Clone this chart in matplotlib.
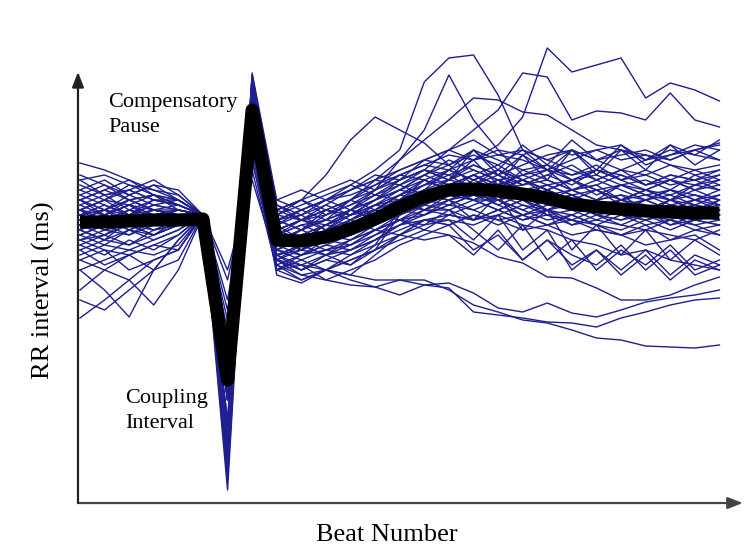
import numpy as np
import matplotlib
matplotlib.use("Agg")
import matplotlib.pyplot as plt

# RR intervals (ms) around a ventricular premature beat, one row per tachogram
# beat index 5 = last sinus beat, 6 = coupling interval, 7 = compensatory pause
rr_tachograms = [
    [880, 900, 870, 890, 880, 870, 520, 1100, 840, 860, 880, 900, 920, 950, 940, 960, 980, 1010, 1066, 1204, 1156, 1170, 1184, 1104, 1134, 1120, 1098],
    [840, 860, 880, 870, 860, 870, 560, 1060, 800, 830, 850, 880, 900, 940, 980, 1000, 1040, 1080, 1154, 1146, 1060, 1078, 1074, 1060, 1114, 1060, 1046],
    [900, 920, 940, 910, 900, 870, 420, 1120, 860, 880, 900, 930, 960, 1000, 1136, 1184, 1190, 1110, 1000, 960, 940, 950, 930, 940, 920, 950, 930],
    [860, 840, 850, 870, 880, 870, 600, 1040, 820, 800, 840, 880, 920, 980, 1040, 1150, 1060, 1000, 950, 960, 920, 900, 930, 910, 900, 920, 900],
    [920, 900, 930, 910, 900, 870, 500, 1090, 880, 900, 950, 1020, 1066, 1040, 1014, 970, 930, 950, 920, 900, 910, 880, 890, 870, 880, 860, 870],
    [870, 880, 860, 850, 860, 870, 540, 1080, 830, 850, 860, 900, 940, 980, 1020, 1060, 1104, 1100, 1076, 1070, 1040, 1010, 1000, 990, 980, 1000, 1014],
    [780, 800, 760, 780, 800, 870, 600, 1000, 780, 770, 760, 740, 726, 740, 740, 720, 690, 676, 660, 654, 640, 624, 620, 608, 606, 604, 610],
    [820, 800, 790, 810, 830, 870, 620, 980, 760, 780, 760, 750, 740, 740, 730, 734, 714, 684, 676, 694, 674, 666, 680, 696, 704, 710, 720],
    [800, 770, 790, 760, 820, 870, 580, 1020, 780, 750, 740, 730, 726, 710, 730, 724, 676, 670, 664, 656, 654, 646, 664, 676, 690, 700, 704],
    [840, 820, 860, 840, 850, 870, 560, 1060, 800, 820, 800, 820, 840, 830, 820, 830, 814, 786, 774, 746, 744, 724, 700, 700, 710, 730, 746],
    [664, 700, 740, 690, 760, 870, 500, 1100, 800, 790, 820, 810, 840, 860, 870, 900, 880, 860, 870, 850, 860, 840, 830, 850, 820, 840, 830],
    [700, 680, 720, 760, 780, 870, 380, 1120, 840, 820, 850, 870, 900, 920, 940, 920, 950, 930, 900, 920, 890, 900, 880, 870, 900, 880, 890],
    [974, 960, 940, 920, 900, 870, 520, 1140, 880, 860, 870, 900, 880, 910, 930, 960, 940, 920, 960, 940, 920, 930, 900, 910, 890, 900, 880],
    [940, 950, 930, 920, 910, 870, 440, 1110, 850, 870, 840, 860, 880, 900, 920, 940, 1000, 960, 1010, 970, 1020, 980, 1000, 960, 1010, 990, 1020],
    [900, 880, 910, 890, 880, 870, 520, 1070, 820, 840, 820, 830, 850, 880, 900, 910, 900, 920, 940, 920, 900, 880, 870, 880, 900, 890, 880],
    [820, 840, 830, 850, 860, 870, 560, 1090, 790, 810, 830, 850, 860, 890, 910, 900, 860, 910, 840, 880, 800, 850, 790, 840, 780, 820, 790],
    [860, 880, 900, 880, 870, 870, 500, 1100, 840, 800, 820, 860, 880, 870, 900, 930, 920, 940, 920, 900, 920, 900, 910, 880, 890, 870, 900],
    [880, 860, 870, 900, 890, 870, 540, 1060, 810, 830, 850, 840, 870, 900, 920, 910, 940, 960, 930, 950, 930, 960, 940, 920, 940, 930, 950],
    [850, 870, 840, 860, 850, 870, 600, 1030, 780, 800, 790, 820, 840, 860, 880, 880, 840, 800, 850, 780, 820, 760, 800, 770, 810, 760, 780],
    [810, 790, 820, 800, 830, 870, 580, 1050, 800, 780, 800, 810, 830, 850, 860, 860, 820, 870, 800, 840, 760, 800, 750, 790, 740, 780, 760],
    [900, 920, 900, 880, 870, 870, 400, 1130, 860, 880, 860, 880, 900, 920, 950, 980, 960, 940, 950, 930, 910, 920, 900, 920, 940, 920, 930],
    [870, 850, 880, 860, 870, 870, 520, 1080, 820, 840, 870, 890, 910, 940, 960, 950, 970, 950, 970, 990, 1000, 980, 960, 980, 1000, 990, 980],
    [930, 910, 920, 900, 890, 870, 440, 1150, 870, 860, 880, 900, 930, 960, 980, 1000, 980, 990, 980, 960, 980, 1000, 980, 990, 970, 960, 970],
    [790, 810, 800, 820, 840, 870, 620, 1000, 760, 770, 790, 800, 820, 840, 860, 850, 800, 830, 780, 820, 790, 770, 810, 760, 800, 750, 770],
    [850, 830, 860, 880, 870, 870, 540, 1070, 780, 760, 790, 770, 810, 880, 910, 900, 920, 890, 910, 880, 900, 870, 860, 880, 850, 860, 850],
    [760, 780, 800, 790, 810, 870, 580, 1040, 790, 800, 820, 840, 870, 860, 890, 920, 910, 900, 880, 900, 880, 890, 870, 860, 870, 850, 860],
    [880, 870, 890, 880, 880, 870, 760, 940, 780, 760, 780, 800, 820, 850, 870, 890, 910, 900, 920, 910, 900, 880, 870, 860, 880, 860, 870],
    [860, 880, 850, 870, 870, 870, 740, 960, 760, 790, 800, 790, 810, 830, 860, 870, 860, 880, 860, 870, 860, 850, 830, 840, 830, 820, 840],
    [880, 900, 890, 870, 880, 870, 320, 1154, 900, 920, 900, 920, 940, 960, 980, 970, 1000, 980, 960, 970, 950, 960, 940, 950, 930, 940, 920],
    [830, 850, 870, 850, 860, 870, 400, 1120, 880, 900, 880, 870, 890, 910, 930, 940, 960, 940, 920, 930, 940, 920, 930, 910, 920, 900, 910],
    [910, 890, 870, 880, 870, 870, 460, 1100, 850, 880, 900, 880, 860, 900, 920, 960, 1000, 950, 990, 940, 1000, 960, 1010, 970, 990, 1000, 980],
    [870, 880, 900, 910, 890, 870, 500, 1090, 860, 840, 860, 880, 910, 900, 880, 910, 930, 900, 910, 890, 880, 900, 910, 900, 920, 910, 900],
    [760, 720, 666, 760, 820, 870, 620, 1010, 770, 740, 760, 780, 800, 830, 850, 860, 850, 870, 850, 840, 820, 810, 790, 800, 780, 770, 760],
    [720, 760, 740, 780, 800, 870, 560, 1050, 820, 800, 830, 850, 870, 900, 880, 900, 920, 910, 890, 880, 900, 870, 880, 900, 880, 890, 910],
    [890, 910, 880, 900, 900, 870, 410, 1110, 900, 880, 900, 920, 940, 930, 960, 1000, 1020, 990, 1000, 980, 960, 940, 960, 930, 950, 940, 950],
    [840, 820, 840, 830, 850, 870, 520, 1080, 830, 850, 830, 850, 880, 910, 900, 930, 950, 970, 940, 920, 940, 920, 900, 920, 910, 930, 920],
    [950, 930, 910, 930, 920, 870, 580, 1060, 840, 860, 890, 920, 950, 940, 960, 940, 980, 930, 990, 960, 1000, 950, 1000, 980, 1010, 970, 1000],
    [860, 870, 850, 840, 860, 870, 540, 1100, 810, 790, 810, 830, 860, 880, 870, 890, 880, 900, 880, 860, 870, 850, 870, 850, 860, 840, 850],
    [800, 820, 810, 830, 850, 870, 640, 1020, 790, 760, 780, 770, 800, 820, 840, 830, 790, 840, 780, 820, 770, 800, 760, 800, 750, 790, 770],
    [880, 900, 920, 900, 890, 870, 500, 1130, 870, 900, 920, 940, 920, 950, 970, 990, 980, 1000, 990, 1010, 990, 1000, 1010, 980, 990, 1010, 1000],
    [920, 940, 910, 930, 900, 870, 370, 1140, 890, 860, 880, 860, 890, 900, 940, 920, 910, 930, 940, 920, 900, 920, 890, 900, 910, 890, 880],
    [850, 860, 880, 870, 880, 870, 520, 1090, 830, 820, 840, 860, 840, 870, 890, 880, 900, 880, 860, 880, 850, 870, 860, 870, 850, 870, 860],
    [870, 850, 860, 880, 870, 870, 600, 1030, 750, 734, 760, 790, 820, 850, 880, 870, 860, 880, 900, 870, 880, 860, 880, 870, 890, 880, 870],
    [830, 810, 840, 820, 840, 870, 560, 1060, 790, 770, 740, 760, 780, 810, 830, 850, 870, 860, 840, 850, 830, 840, 830, 810, 820, 830, 800],
    [900, 870, 890, 910, 880, 870, 360, 1120, 860, 840, 880, 870, 900, 930, 910, 940, 930, 960, 940, 920, 940, 910, 930, 920, 900, 930, 940],
    [840, 870, 850, 830, 860, 870, 380, 1130, 830, 860, 840, 870, 890, 920, 950, 930, 950, 930, 950, 970, 940, 960, 950, 930, 950, 940, 960],
    [880, 850, 860, 850, 870, 870, 420, 1100, 850, 820, 850, 880, 870, 900, 930, 950, 920, 940, 910, 930, 910, 890, 900, 920, 900, 910, 890],
    [910, 930, 900, 910, 890, 870, 350, 1140, 880, 900, 870, 890, 920, 940, 960, 940, 970, 950, 930, 950, 970, 940, 960, 950, 970, 950, 960],
    [820, 830, 810, 840, 850, 870, 700, 980, 770, 790, 810, 800, 830, 860, 850, 880, 860, 870, 890, 870, 850, 860, 850, 840, 860, 850, 830],
    [860, 840, 860, 850, 860, 870, 660, 1000, 770, 750, 760, 780, 800, 870, 890, 910, 900, 880, 900, 880, 890, 870, 850, 870, 860, 880, 870],
    [870, 890, 870, 860, 880, 870, 400, 1110, 860, 870, 890, 870, 900, 920, 910, 930, 950, 920, 940, 910, 920, 940, 920, 900, 920, 900, 920],
    [900, 880, 870, 890, 900, 870, 440, 1090, 840, 860, 850, 870, 880, 910, 940, 920, 900, 920, 930, 940, 920, 930, 950, 930, 940, 960, 940],
    [780, 760, 790, 810, 800, 870, 680, 1000, 760, 740, 760, 750, 790, 830, 860, 850, 870, 850, 870, 850, 870, 850, 840, 860, 840, 860, 850],
    [890, 870, 900, 880, 890, 870, 380, 1150, 890, 870, 900, 910, 930, 950, 970, 960, 940, 960, 940, 960, 950, 970, 940, 960, 940, 920, 940],
    [850, 870, 890, 860, 870, 870, 460, 1070, 810, 840, 860, 850, 870, 890, 880, 900, 910, 890, 870, 890, 910, 890, 880, 900, 880, 900, 890],
    [940, 910, 920, 940, 910, 870, 340, 1140, 870, 890, 910, 930, 910, 930, 950, 970, 990, 970, 1000, 980, 1000, 980, 990, 1000, 980, 1000, 1010],
    [810, 830, 850, 830, 850, 870, 620, 1020, 790, 810, 790, 810, 840, 860, 840, 870, 890, 910, 900, 880, 870, 890, 870, 880, 870, 860, 880],
    [870, 860, 840, 860, 870, 870, 420, 1100, 820, 800, 830, 860, 890, 880, 900, 890, 910, 930, 910, 890, 900, 880, 900, 890, 870, 890, 870],
    [830, 850, 830, 860, 860, 870, 500, 1060, 780, 810, 830, 820, 850, 870, 900, 920, 900, 900, 870, 880, 860, 880, 900, 880, 900, 880, 900],
]

# averaged tachogram (thick black curve)
rr_mean = [856, 856, 858, 860, 860, 862, 540, 1080, 820, 818, 826, 842, 862, 886, 906,
           920, 922, 918, 912, 904, 892, 886, 882, 878, 876, 874, 874]

beats = np.arange(len(rr_mean))

serif = ["Liberation Serif", "DejaVu Serif"]
fig = plt.figure(figsize=(7.47, 5.47), dpi=100)
ax = fig.add_axes([0.1044, 0.0804, 0.890, 0.788])

for rr in rr_tachograms:
    ax.plot(beats, rr, color="#1f1f8f", lw=1.0, clip_on=False, zorder=2)
ax.plot(beats, rr_mean, color="black", lw=9.5, clip_on=False, zorder=3,
        solid_capstyle="butt")

ax.set_xlim(-0.08, 26.95)
ax.set_ylim(294, 1156)
for s in ax.spines.values():
    s.set_visible(False)
ax.set_xticks([])
ax.set_yticks([])

# axes drawn as arrows
ax.annotate("", xy=(1, 0), xytext=(0, 0), xycoords="axes fraction",
            arrowprops=dict(arrowstyle="-|>,head_length=0.9,head_width=0.35",
                            color="#444444", lw=1.6, shrinkA=0, shrinkB=0))
ax.annotate("", xy=(0, 1), xytext=(0, 0), xycoords="axes fraction",
            arrowprops=dict(arrowstyle="-|>,head_length=0.9,head_width=0.35",
                            color="#222222", lw=1.6, shrinkA=0, shrinkB=0))

fig.text(387 / 747, 0.011, "Beat Number", ha="center", va="baseline",
         family=serif, fontsize=19)
fig.text(43 / 747, 0.470, "RR interval (ms)", ha="center", va="center",
         rotation=90, family=serif, fontsize=19)

fig.text(108 / 747, 0.8044, "Compensatory", ha="left", va="baseline",
         family=serif, fontsize=16)
fig.text(108 / 747, 0.7587, "Pause", ha="left", va="baseline",
         family=serif, fontsize=16)
fig.text(125 / 747, 0.2632, "Coupling", ha="left", va="baseline",
         family=serif, fontsize=16)
fig.text(125 / 747, 0.2176, "Interval", ha="left", va="baseline",
         family=serif, fontsize=16)

fig.savefig("out.png", dpi=100)
